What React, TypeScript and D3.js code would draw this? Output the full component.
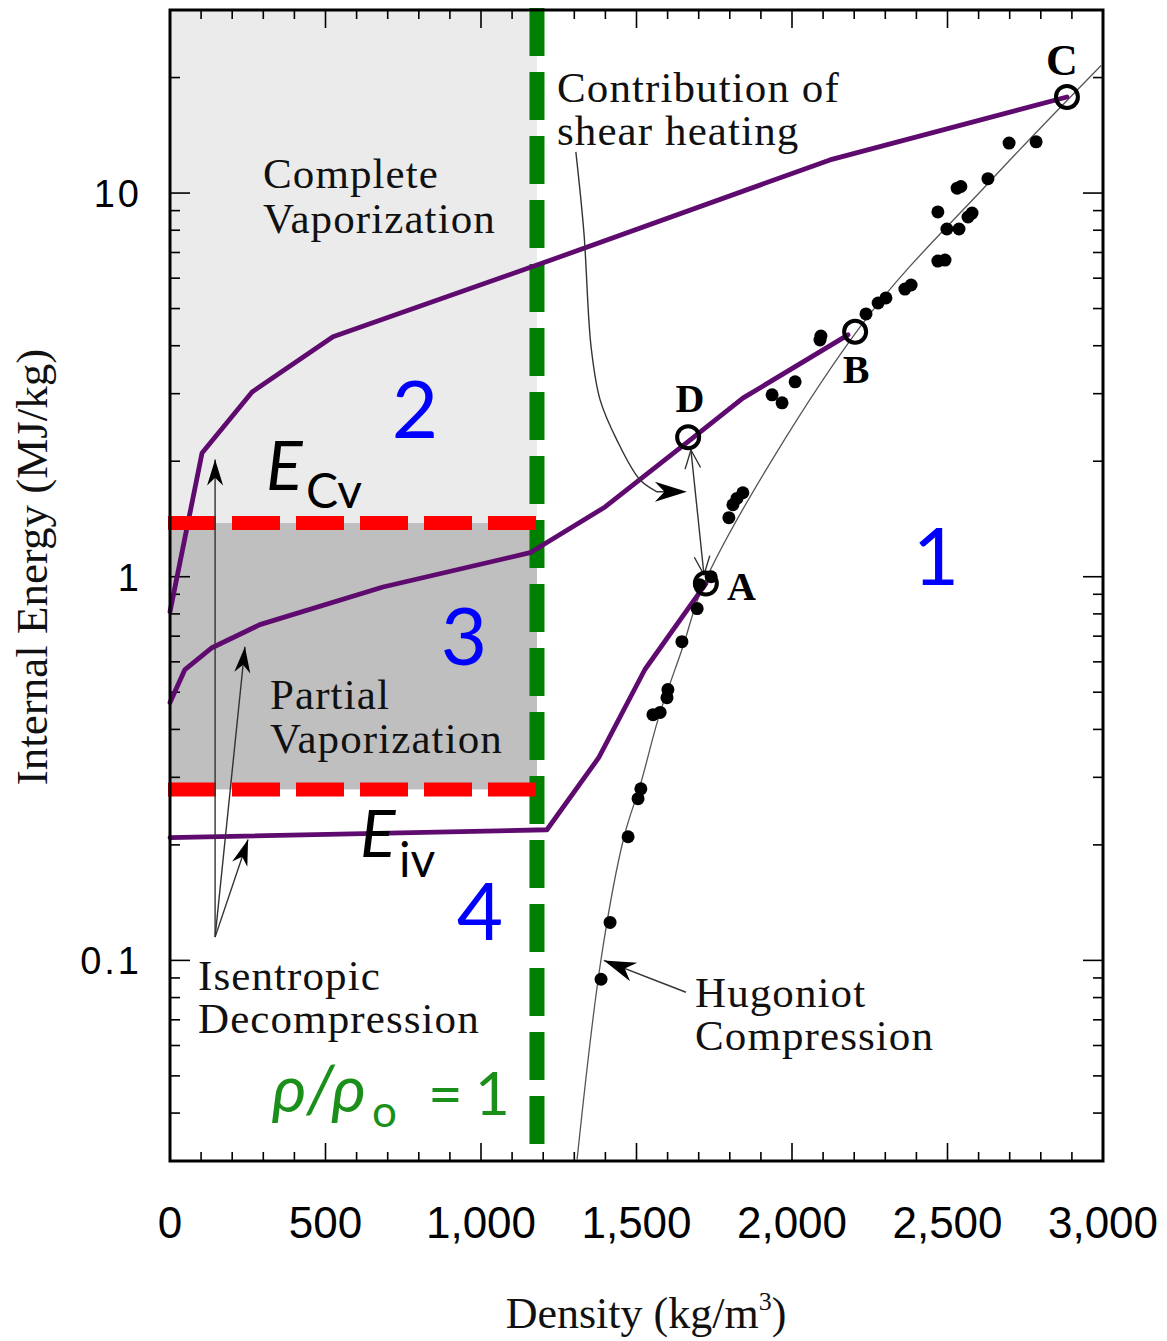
import React from 'react';
import * as d3 from 'd3';

const W = 1167;
const H = 1341;

// axes
const xDomain = [0, 3000];
const yDomain = [0.03, 30];
const xTickValues = [0, 500, 1000, 1500, 2000, 2500, 3000];
const yTickValues = [0.1, 1, 10];
const yTickLabels = ['0.1', '1', '10'];

// reference levels
const rho0 = 1180; // kg/m3, rho/rho0 = 1
const E_Cv = 1.38; // MJ/kg complete vaporization
const E_iv = 0.279; // MJ/kg incipient vaporization

// purple decompression paths [density, energy]
const pathFromC = [[0, 0.81], [103, 2.1], [264, 3.03], [524, 4.22], [1180, 6.49], [2122, 12.2], [2884, 17.8]];
const pathFromB = [[0, 0.47], [48, 0.573], [135, 0.653], [289, 0.75], [685, 0.94], [1158, 1.155], [1399, 1.52], [1672, 2.27], [1842, 2.92], [2180, 4.27]];
const pathFromA = [[0, 0.209], [1212, 0.219], [1379, 0.338], [1527, 0.573], [1723, 0.96]];

// thin Hugoniot curve
const hugoniot = [[1309, 0.0303], [1386, 0.1007], [1460, 0.21], [1514, 0.29], [1572, 0.432], [1646, 0.645], [1727, 1.0], [2219, 4.48], [2640, 10.8], [2994, 21.5]];

// Hugoniot data points
const dotDensity = [1386, 1415, 1473, 1505, 1514, 1553, 1576, 1598, 1601, 1646, 1695, 1704, 1740, 1797, 1810, 1842, 1823, 1936, 1968, 2010, 2090, 2093, 2238, 2277, 2302, 2363, 2383, 2469, 2492, 2498, 2537, 2469, 2566, 2579, 2531, 2543, 2630, 2698, 2785];
const dotEnergy = [0.0893, 0.1256, 0.21, 0.264, 0.28, 0.437, 0.443, 0.484, 0.508, 0.677, 0.826, 0.953, 1.0, 1.425, 1.54, 1.655, 1.6, 2.98, 2.84, 3.22, 4.14, 4.24, 4.84, 5.17, 5.33, 5.62, 5.76, 6.65, 6.69, 8.06, 8.06, 8.93, 8.66, 8.87, 10.3, 10.4, 10.9, 13.5, 13.6];

// labelled states
const stateNames = ['A', 'B', 'C', 'D'];
const stateDensity = [1723, 2203, 2884, 1666];
const stateEnergy = [0.96, 4.35, 17.8, 2.31];

// annotation arrows (data coords)
const isenOrigin = [145, 0.115];
const isenTips = [[145, 2.02], [241, 0.657], [251, 0.2066]];
const shearArrow = [[1305, 12.8], [1331, 7.87], [1354, 3.97], [1383, 2.89], [1437, 2.27], [1511, 1.789], [1566, 1.665], [1662, 1.665]];
const daArrow = [[1675, 2.14], [1717, 1.012]];
const hugArrow = [[1659, 0.0826], [1395, 0.1]];

const SERIF = "'Liberation Serif', 'Times New Roman', serif";
const SANS = "'Liberation Sans', Arial, sans-serif";
const CAL = "Lato, 'Open Sans', 'Noto Sans', sans-serif";
const PURPLE = '#5e0a6e';
const GREEN = '#008000';
const BLUE = '#0000ff';

function headPath(tx: number, ty: number, fx: number, fy: number, L = 26, Wd = 8) {
  const a = Math.atan2(ty - fy, tx - fx);
  const c = Math.cos(a), s = Math.sin(a);
  const bx = tx - L * c, by = ty - L * s;
  const nx = tx - 0.7 * L * c, ny = ty - 0.7 * L * s;
  return `M${tx},${ty}L${bx - Wd * s},${by + Wd * c}L${nx},${ny}L${bx + Wd * s},${by - Wd * c}Z`;
}

function chevron(tx: number, ty: number, fx: number, fy: number, L = 20, ang = 0.4) {
  const a = Math.atan2(fy - ty, fx - tx);
  const p1 = [tx + L * Math.cos(a + ang), ty + L * Math.sin(a + ang)];
  const p2 = [tx + L * Math.cos(a - ang), ty + L * Math.sin(a - ang)];
  return `M${p1[0]},${p1[1]}L${tx},${ty}L${p2[0]},${p2[1]}`;
}

export default function App() {
  const x = d3.scaleLinear().domain(xDomain).range([170, 1103]);
  const y = d3.scaleLog().domain(yDomain).range([1161, 10]);
  const X0 = x(xDomain[0]), X1 = x(xDomain[1]);
  const Y0 = y(yDomain[0]), Y1 = y(yDomain[1]);
  const lin = d3.line<number[]>().x(p => x(p[0])).y(p => y(p[1]));
  const smooth = d3.line<number[]>().x(p => x(p[0])).y(p => y(p[1])).curve(d3.curveCatmullRom.alpha(0.5));
  const fmt = d3.format(',');

  const xMinor = d3.range(xDomain[0], xDomain[1] + 1, 100);
  const yMinor: number[] = [];
  for (let e = -2; e <= 1; e++) for (let k = 1; k <= 9; k++) {
    const v = k * Math.pow(10, e);
    if (v >= yDomain[0] * 0.999 && v <= yDomain[1] * 1.001) yMinor.push(v);
  }
  const isMajorY = (v: number) => Math.abs(Math.log10(v) - Math.round(Math.log10(v))) < 1e-6;

  const xr = x(rho0);
  const yCv = y(E_Cv);
  const yIv = y(E_iv);

  const [ox, oy] = [x(isenOrigin[0]), y(isenOrigin[1])];
  const shearPix = shearArrow.map(p => [x(p[0]), y(p[1])]);
  const sTip = shearPix[shearPix.length - 1];
  const sPrev = shearPix[shearPix.length - 2];
  const da0 = [x(daArrow[0][0]), y(daArrow[0][1])];
  const da1 = [x(daArrow[1][0]), y(daArrow[1][1])];
  const h0 = [x(hugArrow[0][0]), y(hugArrow[0][1])];
  const h1 = [x(hugArrow[1][0]), y(hugArrow[1][1])];

  return (
    <svg width={W} height={H} style={{ position: 'absolute', left: 0, top: 0, background: '#fff' }}>
      {/* shaded regions */}
      <rect x={X0} y={Y1} width={xr - X0} height={yCv - Y1} fill="#ebebeb" />
      <rect x={X0} y={yCv} width={xr - X0} height={yIv - yCv} fill="#bfbfbf" />

      {/* ticks */}
      <g stroke="#000" strokeWidth={1.6}>
        {xMinor.map(v => {
          const major = v % 500 === 0;
          const L = major ? 18 : 9;
          return (
            <g key={'xt' + v}>
              <line x1={x(v)} x2={x(v)} y1={Y0} y2={Y0 - L} />
              <line x1={x(v)} x2={x(v)} y1={Y1} y2={Y1 + L} />
            </g>
          );
        })}
        {yMinor.map(v => {
          const L = isMajorY(v) ? 20 : 10;
          return (
            <g key={'yt' + v}>
              <line x1={X0} x2={X0 + L} y1={y(v)} y2={y(v)} />
              <line x1={X1} x2={X1 - L} y1={y(v)} y2={y(v)} />
            </g>
          );
        })}
      </g>

      {/* Hugoniot thin curve */}
      <path d={smooth(hugoniot) || ''} fill="none" stroke="#555" strokeWidth={1.3} />

      {/* green rho/rho0 = 1 line */}
      <line x1={xr} x2={xr} y1={Y1 - 2} y2={Y1 - 2 + 17 * 64 + 48} stroke={GREEN} strokeWidth={15} strokeDasharray="48 16" />

      {/* purple decompression paths */}
      <g fill="none" stroke={PURPLE} strokeWidth={4.8} strokeLinejoin="round" strokeLinecap="round">
        <path d={lin(pathFromC) || ''} />
        <path d={lin(pathFromB) || ''} />
        <path d={lin(pathFromA) || ''} />
      </g>

      {/* red vaporization levels */}
      <g stroke="#ff0000" strokeWidth={14} strokeDasharray="48 16">
        <line x1={X0 - 2} x2={xr} y1={yCv} y2={yCv} />
        <line x1={X0 - 2} x2={xr} y1={yIv} y2={yIv} />
      </g>

      {/* data dots */}
      <g fill="#000">
        {dotDensity.map((d, i) => (
          <circle key={'dot' + i} cx={x(d)} cy={y(dotEnergy[i])} r={6.5} />
        ))}
      </g>

      {/* annotation arrows */}
      <g stroke="#333" strokeWidth={1.4} fill="none">
        {isenTips.map((t, i) => (
          <line key={'il' + i} x1={ox} y1={oy} x2={x(t[0])} y2={y(t[1])} />
        ))}
        <path d={smooth(shearArrow.slice(0, -1)) + `L${sTip[0] - 18},${sTip[1]}`} />
        <line x1={da0[0]} y1={da0[1]} x2={da1[0]} y2={da1[1]} />
        <path d={chevron(da0[0], da0[1], da1[0], da1[1])} />
        <path d={chevron(da1[0], da1[1], da0[0], da0[1])} />
        <line x1={h0[0]} y1={h0[1]} x2={h1[0]} y2={h1[1]} />
      </g>
      <g fill="#000">
        {isenTips.map((t, i) => (
          <path key={'ih' + i} d={headPath(x(t[0]), y(t[1]), ox, oy, 26, 8)} />
        ))}
        <path d={headPath(sTip[0], sTip[1], sPrev[0], sPrev[1], 32, 10)} />
        <path d={headPath(h1[0], h1[1], h0[0], h0[1], 32, 10)} />
      </g>

      {/* state markers */}
      <g fill="none" stroke="#000" strokeWidth={4}>
        {stateDensity.map((d, i) => (
          <circle key={'st' + i} cx={x(d)} cy={y(stateEnergy[i])} r={11} />
        ))}
      </g>
      <g fontFamily={SERIF} fontWeight="bold" fontSize={40} fill="#000">
        <text x={727} y={600}>{stateNames[0]}</text>
        <text x={856} y={383} textAnchor="middle">{stateNames[1]}</text>
        <text x={1062} y={75} textAnchor="middle" fontSize={44}>{stateNames[2]}</text>
        <text x={690} y={412} textAnchor="middle">{stateNames[3]}</text>
      </g>

      {/* serif annotations */}
      <g fontFamily={SERIF} fontSize={43} fill="#111" letterSpacing={1.1}>
        <text x={263} y={188}>Complete</text>
        <text x={263} y={233}>Vaporization</text>
        <text x={557} y={102}>Contribution of</text>
        <text x={557} y={145}>shear heating</text>
        <text x={270} y={709}>Partial</text>
        <text x={270} y={753}>Vaporization</text>
        <text x={198} y={990}>Isentropic</text>
        <text x={198} y={1033}>Decompression</text>
        <text x={695} y={1007}>Hugoniot</text>
        <text x={695} y={1050}>Compression</text>
      </g>

      {/* region numbers */}
      <g fontFamily={CAL} fontSize={80} fill={BLUE} textAnchor="middle">
        <text x={415} y={438}>2</text>
        <text x={464} y={665}>3</text>
        <text x={936} y={585}>1</text>
        <text x={480} y={940}>4</text>
      </g>

      {/* energy labels */}
      <g fontFamily={CAL} fill="#000">
        <text x={266} y={490} fontSize={68} fontStyle="italic">E</text>
        <text x={306} y={508} fontSize={48}>Cv</text>
        <text x={360} y={857} fontSize={66} fontStyle="italic">E</text>
        <text x={399} y={877} fontSize={48}>iv</text>
      </g>

      {/* rho/rho0 = 1 */}
      <g fontFamily={CAL} fill="#1a8f1a">
        <text x={272} y={1112} fontSize={66} fontStyle="italic">ρ/ρ</text>
        <text x={372} y={1127} fontSize={44}>o</text>
        <text x={428} y={1115} fontSize={60}>=</text>
        <text x={475} y={1115} fontSize={60}>1</text>
      </g>

      {/* tick labels */}
      <g fontFamily={SANS} fontSize={44} fill="#000" textAnchor="middle">
        {xTickValues.map(v => (
          <text key={'xl' + v} x={x(v)} y={1238}>{fmt(v)}</text>
        ))}
      </g>
      <g fontFamily={SANS} fontSize={38} fill="#000" textAnchor="end">
        {yTickValues.map((v, i) => (
          <text key={'yl' + v} x={142} y={y(v) + 14} letterSpacing={3}>{yTickLabels[i]}</text>
        ))}
      </g>

      {/* axis titles */}
      <text x={646} y={1328} textAnchor="middle" fontFamily={SERIF} fontSize={44} fill="#111">
        Density (kg/m<tspan dy={-18} fontSize={26}>3</tspan><tspan dy={18}>)</tspan>
      </text>
      <text transform="translate(47,567) rotate(-90)" textAnchor="middle" fontFamily={SERIF} fontSize={45} fill="#111">
        Internal Energy (MJ/kg)
      </text>

      {/* frame */}
      <rect x={X0} y={Y1} width={X1 - X0} height={Y0 - Y1} fill="none" stroke="#000" strokeWidth={3} />
    </svg>
  );
}
